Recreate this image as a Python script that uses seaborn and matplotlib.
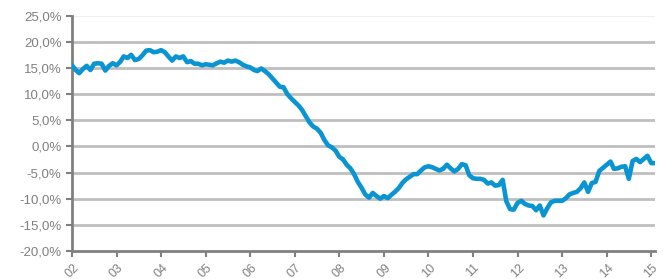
import pandas as pd
import matplotlib.pyplot as plt
from matplotlib.ticker import FuncFormatter
import seaborn as sns

# monthly values, Jan 2002 - Feb 2015 (%)
values = [
    15.5, 14.6, 14.0, 14.8, 15.4, 14.6, 15.8, 15.9, 15.8, 14.5, 15.4, 15.9,
    15.5, 16.2, 17.2, 16.9, 17.5, 16.5, 16.7, 17.4, 18.3, 18.4, 18.0, 18.1,
    18.4, 18.0, 17.2, 16.4, 17.2, 16.9, 17.2, 16.1, 16.3, 15.8, 15.8, 15.5,
    15.7, 15.6, 15.5, 15.9, 16.2, 16.0, 16.4, 16.2, 16.4, 16.1, 15.6, 15.3,
    15.1, 14.6, 14.4, 14.9, 14.4, 13.8, 13.0, 12.2, 11.4, 11.3, 10.0, 9.2,
    8.5, 7.8, 7.0, 5.8, 4.6, 3.8, 3.4, 2.6, 1.2, 0.2, -0.2, -0.8,
    -2.0, -2.5, -3.5, -4.2, -5.3, -6.8, -7.9, -9.2, -9.8, -8.9, -9.5, -10.0,
    -9.5, -9.9, -9.3, -8.7, -8.0, -7.0, -6.3, -5.8, -5.3, -5.3, -4.6, -4.0,
    -3.8, -4.0, -4.3, -4.6, -4.3, -3.5, -4.2, -4.8, -4.3, -3.4, -3.6, -5.5,
    -6.1, -6.2, -6.2, -6.4, -7.1, -6.9, -7.5, -7.4, -6.4, -10.5, -12.0, -12.1,
    -10.8, -10.4, -11.0, -11.3, -11.4, -12.2, -11.3, -13.2, -11.8, -10.7, -10.4, -10.4,
    -10.4, -9.9, -9.2, -8.9, -8.7, -8.0, -6.9, -8.7, -7.0, -6.8, -4.7, -4.1,
    -3.5, -2.9, -4.3, -4.2, -3.9, -3.8, -6.2, -2.8, -2.4, -3.0, -2.4, -1.8,
    -3.2, -3.2,
]
dates = pd.date_range("2002-01-01", periods=len(values), freq="MS")
year_labels = ["02", "03", "04", "05", "06", "07", "08", "09",
               "10", "11", "12", "13", "14", "15"]
y_ticks = [-20, -15, -10, -5, 0, 5, 10, 15, 20, 25]

df = pd.DataFrame({"date": dates, "value": values})

sns.set_style("white")
plt.rcParams["font.family"] = ["Liberation Sans", "DejaVu Sans"]

fig = plt.figure(figsize=(6.63, 2.79), dpi=100)
ax = fig.add_axes([0.1086, 0.1004, 0.8794, 0.8436])

for t in y_ticks[1:-1]:
    ax.axhline(t, color="#bfbfbf", lw=2, zorder=1)
ax.axhline(25, color="#eeeeee", lw=1.5, zorder=1)

sns.lineplot(data=df, x="date", y="value", color="#0a95d2", lw=3.3, ax=ax, zorder=3)

ax.set_ylim(-20, 25)
ax.set_yticks(y_ticks)
ax.yaxis.set_major_formatter(FuncFormatter(lambda v, p: f"{v:.1f}".replace(".", ",") + "%"))
ax.set_xlim(dates[0], dates[-1])
year_ticks = pd.date_range("2002-01-01", "2015-01-01", freq="YS")
ax.set_xticks(year_ticks)
ax.set_xticklabels(year_labels, rotation=45, ha="center")
ax.set_xlabel("")
ax.set_ylabel("")

for side in ["top", "right"]:
    ax.spines[side].set_visible(False)
for side in ["left", "bottom"]:
    ax.spines[side].set_color("#808080")
    ax.spines[side].set_linewidth(2)
ax.tick_params(axis="both", colors="#808080", length=4, width=1.5, direction="out")
ax.tick_params(axis="y", labelcolor="#808080", labelsize=9.5)
ax.tick_params(axis="x", labelcolor="#808080", labelsize=9)
ax.tick_params(left=True, bottom=True)

fig.savefig("out.png", dpi=100)
